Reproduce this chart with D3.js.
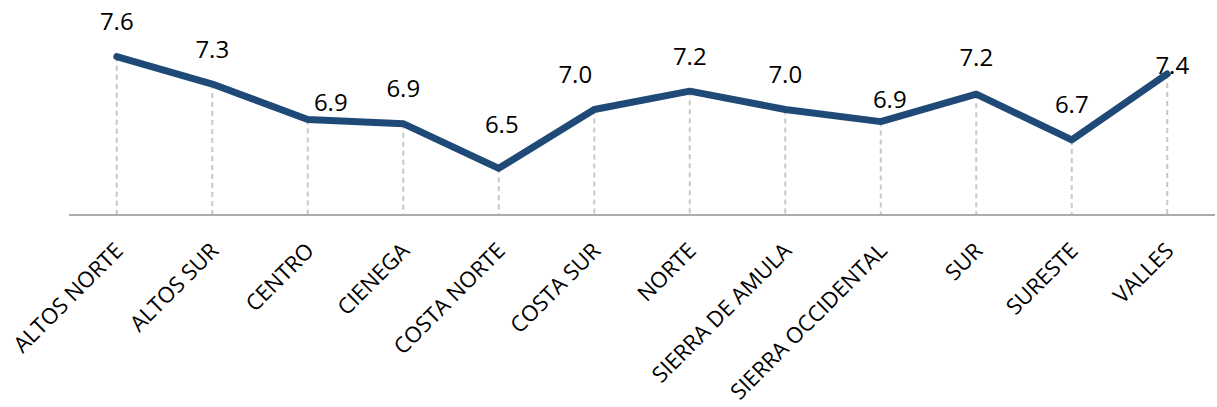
<!DOCTYPE html>
<html>
<head>
<meta charset="utf-8">
<script src="https://cdn.jsdelivr.net/npm/d3@7"></script>
<style>
  html, body { margin: 0; padding: 0; background: #ffffff; }
  svg { display: block; }
</style>
</head>
<body>
<svg id="chart" width="1217" height="407"></svg>
<script>
// ---- data ----
const categories = ["ALTOS NORTE", "ALTOS SUR", "CENTRO", "CIENEGA", "COSTA NORTE", "COSTA SUR",
  "NORTE", "SIERRA DE AMULA", "SIERRA OCCIDENTAL", "SUR", "SURESTE", "VALLES"];
const values = [7.56, 7.29, 6.94, 6.90, 6.46, 7.04, 7.22, 7.04, 6.92, 7.19, 6.74, 7.39];
const yDomain = [6, 8];

// ---- layout ----
const axisY = 215, topY = 12;
const svg = d3.select("#chart");

const x = d3.scalePoint().domain(categories).range([69, 1215]).padding(0.5);
const y = d3.scaleLinear().domain(yDomain).range([axisY, topY]);

const lineColor = "#1f4a78";
const fontFam = "'Open Sans', 'Liberation Sans', sans-serif";

// drop lines
svg.append("g").selectAll("line")
  .data(categories)
  .join("line")
  .attr("x1", (d) => x(d)).attr("x2", (d) => x(d))
  .attr("y1", (d, i) => y(values[i])).attr("y2", axisY)
  .attr("stroke", "#c8c8c8").attr("stroke-width", 2)
  .attr("stroke-dasharray", "5,4");

// x axis
const xAxis = d3.axisBottom(x).tickSize(0).tickPadding(0);
const gx = svg.append("g").attr("transform", `translate(0,${axisY})`).call(xAxis);
gx.select(".domain").attr("stroke", "#acacac").attr("stroke-width", 2)
  .attr("d", `M69,0H1215`);
gx.selectAll(".tick text")
  .attr("font-family", fontFam).attr("font-size", 22).attr("fill", "#000")
  .attr("text-anchor", "end")
  .attr("dy", "0.72em")
  .attr("y", 0)
  .attr("transform", "translate(-4,26) rotate(-45)");

// line
const line = d3.line()
  .x((d, i) => x(categories[i]))
  .y((d) => y(d));
svg.append("path")
  .datum(values)
  .attr("d", line)
  .attr("fill", "none")
  .attr("stroke", lineColor)
  .attr("stroke-width", 7)
  .attr("stroke-linejoin", "round")
  .attr("stroke-linecap", "round");

// value labels (default: centred above point; a few nudged as in the original)
const nudge = {
  "CENTRO": [23, -9],
  "COSTA NORTE": [3, -35],
  "COSTA SUR": [-19, -26.5],
  "SIERRA OCCIDENTAL": [9, -14],
  "SUR": [0, -28],
  "VALLES": [5, 0]
};
svg.append("g").selectAll("text")
  .data(categories)
  .join("text")
  .attr("x", (d) => x(d) + (nudge[d] ? nudge[d][0] : 0))
  .attr("y", (d, i) => y(values[i]) + (nudge[d] ? nudge[d][1] : -26.5))
  .attr("text-anchor", "middle")
  .attr("font-family", fontFam).attr("font-size", 24).attr("fill", "#000")
  .text((d, i) => d3.format(".1f")(values[i]));
</script>
</body>
</html>
